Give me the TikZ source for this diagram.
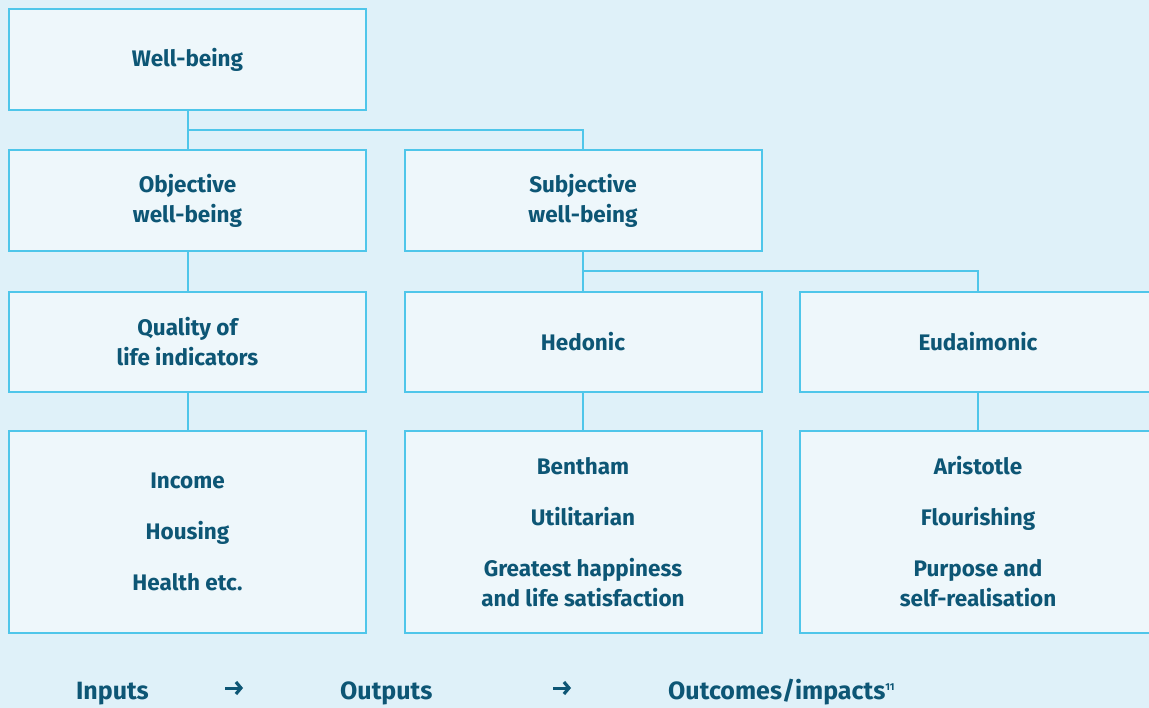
\documentclass[tikz,border=0pt]{standalone}
\usepackage{fontspec}
\usetikzlibrary{arrows.meta}
\setmainfont{Fira Sans}
\definecolor{pagebg}{HTML}{DFF1F9}
\definecolor{boxfill}{HTML}{EEF7FB}
\definecolor{boxline}{HTML}{4FC6EA}
\definecolor{ink}{HTML}{0D5675}
\tikzset{
  box/.style={draw=boxline, fill=boxfill, line width=2pt, rectangle,
    minimum width=357pt, inner sep=0pt, align=center, text=ink,
    font=\fontsize{22.5}{30}\selectfont\bfseries},
  link/.style={draw=boxline, line width=2pt},
  foot/.style={text=ink, inner sep=0pt,
    font=\fontsize{25}{30}\selectfont\bfseries},
  footarrow/.style={draw=ink, line width=3pt,
    -{Straight Barb[length=5pt, width=12pt, line width=3.2pt]}}
}
\begin{document}
\begin{tikzpicture}[x=1pt,y=-1pt]
  \fill[pagebg] (0,0) rectangle (1149,708);
  \useasboundingbox (0,0) rectangle (1149,708);
  \clip (0,0) rectangle (1149,708);

  % top level
  \node[box, minimum height=101pt] (wb) at (187.5,60) {Well-being};

  % second level
  \node[box, minimum height=101pt] (obj) at (187.5,200.5) {Objective\\well-being};
  \node[box, minimum height=101pt] (subj) at (583,200.5) {Subjective\\well-being};

  % third level
  \node[box, minimum height=100pt] (qol) at (187.5,342) {Quality of\\life indicators};
  \node[box, minimum height=100pt] (hed) at (583,342) {Hedonic};
  \node[box, minimum height=100pt] (eud) at (978,342) {Eudaimonic};

  % fourth level
  \node[box, minimum height=202pt] (ex1) at (187.5,532) {Income\\[21pt]Housing\\[21pt]Health etc.};
  \node[box, minimum height=202pt] (ex2) at (583,532) {Bentham\\[21pt]Utilitarian\\[21pt]Greatest happiness\\and life satisfaction};
  \node[box, minimum height=202pt] (ex3) at (978,532) {Aristotle\\[21pt]Flourishing\\[21pt]Purpose and\\self-realisation};

  % connectors
  \draw[link] (wb.south) -- (obj.north);
  \path (wb.south) -- (obj.north) coordinate[pos=0.5] (j1);
  \draw[link] (j1) -| (subj.north);
  \draw[link] (subj.south) -- (hed.north);
  \path (subj.south) -- (hed.north) coordinate[pos=0.5] (j2);
  \draw[link] (j2) -| (eud.north);
  \draw[link] (obj.south) -- (qol.north);
  \draw[link] (qol.south) -- (ex1.north);
  \draw[link] (hed.south) -- (ex2.north);
  \draw[link] (eud.south) -- (ex3.north);

  % bottom line: inputs -> outputs -> outcomes
  \node[foot, anchor=base east] (in) at (149,699) {Inputs};
  \node[foot, anchor=base west] (out) at (340,699) {Outputs};
  \node[foot, anchor=base west] (oc) at (668,699) {Outcomes/impacts\raisebox{9pt}{\fontsize{10}{10}\selectfont 11}};
  \coordinate (a1s) at (225,688);
  \coordinate (a1e) at (243,688);
  \coordinate (a2s) at (553,688);
  \coordinate (a2e) at (571,688);
  \draw[footarrow] (a1s) -- (a1e);
  \draw[footarrow] (a2s) -- (a2e);
\end{tikzpicture}
\end{document}
